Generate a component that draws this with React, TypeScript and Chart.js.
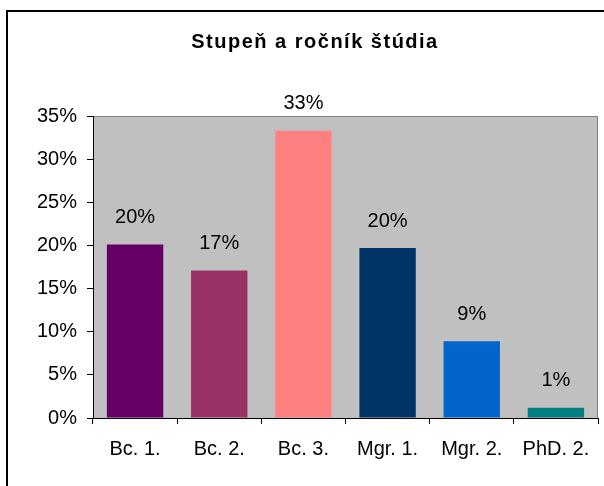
import React, { useEffect, useRef } from "react";
import { Chart, registerables } from "chart.js";

Chart.register(...registerables);

const TITLE = "Stupeň a ročník štúdia";
const CATEGORIES = ["Bc. 1.", "Bc. 2.", "Bc. 3.", "Mgr. 1.", "Mgr. 2.", "PhD. 2."];
const VALUES = [20.1, 17.1, 33.3, 19.7, 8.9, 1.2];
const BAR_COLORS = ["#660066", "#993366", "#FF8080", "#003366", "#0066CC", "#008080"];
const Y_MIN = 0;
const Y_MAX = 35;
const Y_STEP = 5;

const FONT = "'Liberation Sans', Arial, sans-serif";

const decorPlugin = {
  id: "decor",
  beforeDraw(chart: any) {
    const { ctx, chartArea } = chart;
    const { left, top, right, bottom } = chartArea;
    ctx.save();
    ctx.fillStyle = "#FFFFFF";
    ctx.fillRect(0, 0, chart.width, chart.height);
    ctx.fillStyle = "#C0C0C0";
    ctx.fillRect(left, top, right - left, bottom - top);
    ctx.strokeStyle = "#808080";
    ctx.lineWidth = 1;
    ctx.beginPath();
    ctx.moveTo(left, top + 0.5);
    ctx.lineTo(right - 0.5, top + 0.5);
    ctx.lineTo(right - 0.5, bottom);
    ctx.stroke();
    // outer chart border (left + top)
    ctx.strokeStyle = "#000000";
    ctx.lineWidth = 2;
    ctx.beginPath();
    ctx.moveTo(7, chart.height);
    ctx.lineTo(7, 11);
    ctx.lineTo(chart.width, 11);
    ctx.stroke();
    // title
    ctx.fillStyle = "#000000";
    ctx.font = `bold 20px ${FONT}`;
    (ctx as any).letterSpacing = "1.5px";
    ctx.textAlign = "center";
    ctx.textBaseline = "alphabetic";
    ctx.fillText(TITLE, 315, 48);
    (ctx as any).letterSpacing = "0px";
    ctx.restore();
  },
  afterDatasetsDraw(chart: any) {
    const { ctx } = chart;
    const meta = chart.getDatasetMeta(0);
    const data = chart.data.datasets[0].data as number[];
    ctx.save();
    ctx.fillStyle = "#000000";
    ctx.font = `20px ${FONT}`;
    ctx.textAlign = "center";
    ctx.textBaseline = "middle";
    meta.data.forEach((bar: any, i: number) => {
      ctx.fillText(Math.round(data[i]) + "%", bar.x, bar.y - 27);
    });
    ctx.restore();
  },
};

export default function App() {
  const ref = useRef<HTMLCanvasElement | null>(null);

  useEffect(() => {
    document.body.style.margin = "0";
    const canvas = ref.current;
    if (!canvas) return;
    const chart = new Chart(canvas, {
      type: "bar",
      data: {
        labels: CATEGORIES,
        datasets: [
          {
            data: VALUES,
            backgroundColor: BAR_COLORS,
            borderWidth: 0,
            barPercentage: 0.67,
            categoryPercentage: 1,
          },
        ],
      },
      options: {
        responsive: false,
        animation: false,
        layout: { padding: { left: 0, right: 6, top: 116, bottom: 0 } },
        plugins: {
          legend: { display: false },
          tooltip: { enabled: false },
          title: { display: false },
        },
        scales: {
          x: {
            grid: {
              display: true,
              drawOnChartArea: false,
              drawTicks: true,
              tickLength: 6,
              color: "#000000",
              offset: true,
            },
            border: { display: true, color: "#000000", width: 1 },
            ticks: {
              color: "#000000",
              font: { family: FONT, size: 20 },
              padding: 13,
              maxRotation: 0,
              autoSkip: false,
            },
            afterFit(scale: any) {
              scale.height = 68;
            },
          },
          y: {
            min: Y_MIN,
            max: Y_MAX,
            grid: {
              display: true,
              drawOnChartArea: false,
              drawTicks: true,
              tickLength: 6,
              color: "#000000",
            },
            border: { display: true, color: "#000000", width: 1 },
            ticks: {
              stepSize: Y_STEP,
              color: "#000000",
              font: { family: FONT, size: 20 },
              padding: 10,
              callback: (v: any) => v + "%",
            },
            afterFit(scale: any) {
              scale.width = 93;
            },
          },
        },
      },
      plugins: [decorPlugin],
    });
    return () => chart.destroy();
  }, []);

  return (
    <div style={{ position: "fixed", left: 0, top: 0, width: 604, height: 486 }}>
      <canvas ref={ref} width={604} height={486} />
    </div>
  );
}
